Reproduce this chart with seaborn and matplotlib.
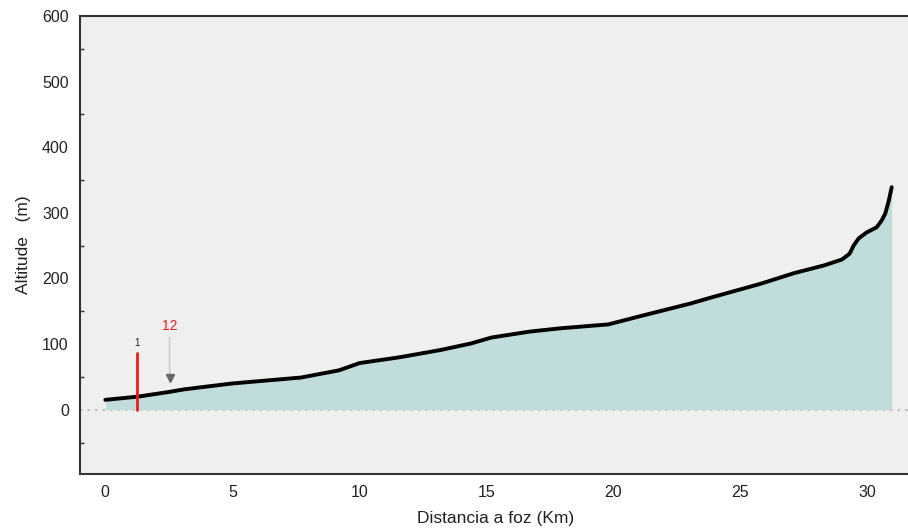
import matplotlib
matplotlib.use("Agg")
import matplotlib.pyplot as plt
import seaborn as sns
import pandas as pd
from matplotlib.ticker import MultipleLocator

# Longitudinal river profile: distance from the mouth (km) vs altitude (m)
distance_km = [0.0, 1.3, 2.5, 3.1, 5.0, 6.5, 7.7, 9.2, 10.0, 11.6, 13.2, 14.4,
               15.2, 16.7, 17.9, 19.8, 21.1, 23.05, 23.85, 25.8, 27.1, 28.3,
               29.0, 29.3, 29.45, 29.65, 29.96, 30.36, 30.55, 30.7, 30.84, 30.95]
altitude_m = [15, 20, 27, 31, 40, 45, 49, 60, 71, 80, 91, 101,
              110, 119, 124, 130, 143, 162, 171, 192, 208, 220,
              229, 238, 250, 261, 270, 278, 288, 299, 319, 339]

# Marked points along the profile
marker_km = [1.26]
marker_top = [86]
marker_label = ["1"]
arrow_km = [2.53]
arrow_label = ["12"]

profile = pd.DataFrame({"Distancia a foz (Km)": distance_km,
                        "Altitude   (m)": altitude_m})

sns.set_theme(style="white")
plt.rcParams["font.family"] = ["Liberation Sans", "DejaVu Sans"]

fig = plt.figure(figsize=(9.08, 5.32), dpi=100)
ax = fig.add_axes([0.088, 0.109, 0.915, 0.861])
ax.set_facecolor("#efefef")

ax.fill_between(distance_km, 0, altitude_m, color="#c0dcdb", linewidth=0, zorder=1)
ax.axhline(0, color="#b5b5b5", linestyle=(0, (1.5, 3)), linewidth=1.2, zorder=0.5)
sns.lineplot(data=profile, x="Distancia a foz (Km)", y="Altitude   (m)",
             color="black", linewidth=2.8, ax=ax, zorder=3, sort=False)
ax.lines[-1].set_solid_joinstyle("round")
ax.lines[-1].set_solid_capstyle("round")

for km, top, lab in zip(marker_km, marker_top, marker_label):
    ax.plot([km, km], [0, top], color="#ee1c1c", linewidth=2, zorder=4)
    ax.text(km, top + 8, lab, color="#222222", fontsize=7, ha="center", va="bottom")

for km, lab in zip(arrow_km, arrow_label):
    ax.annotate("", xy=(km, 44), xytext=(km, 110),
                arrowprops=dict(arrowstyle="-", color="#cccccc", lw=1.2,
                                shrinkA=0, shrinkB=0),
                zorder=4)
    ax.plot([km], [48], marker="v", color="#666666", markersize=6, zorder=5)
    ax.text(km, 117, lab, color="#ee1c1c", fontsize=10, ha="center", va="bottom")

ax.set_xlim(-1.0, 31.7)
ax.set_ylim(-98, 600)
ax.set_xticks([0, 5, 10, 15, 20, 25, 30])
ax.set_yticks([0, 100, 200, 300, 400, 500, 600])
ax.yaxis.set_minor_locator(MultipleLocator(50))
ax.tick_params(axis="both", which="major", length=0, labelsize=11.5, colors="#222222", pad=8)
ax.tick_params(axis="y", which="minor", length=3, direction="in", width=1, color="#333333", left=True)
ax.set_xlabel("Distancia a foz (Km)", fontsize=12.5, color="#222222", labelpad=8)
ax.set_ylabel("Altitude   (m)", fontsize=12.5, color="#222222", labelpad=8)

for side in ["left", "bottom", "top"]:
    ax.spines[side].set_visible(True)
    ax.spines[side].set_color("#333333")
    ax.spines[side].set_linewidth(1.5)
ax.spines["right"].set_visible(False)

fig.savefig("out.png", dpi=100, facecolor="white")
